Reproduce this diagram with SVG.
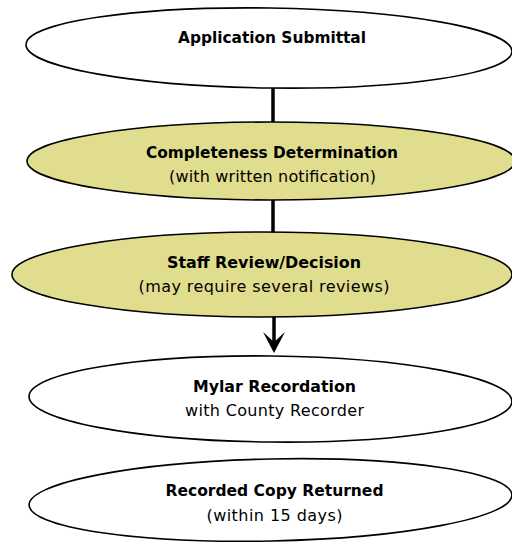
<svg xmlns="http://www.w3.org/2000/svg" width="512" height="542" viewBox="0 0 512 542">
<defs>
<style>
.node ellipse{stroke:#000;stroke-width:1.6}
.w{fill:#fff}
.y{fill:#e1dd8e}
text{font-family:"DejaVu Sans","Liberation Sans",sans-serif;font-size:16px;fill:#000;text-anchor:middle}
.b{font-weight:bold}
.conn line{stroke:#000;stroke-width:3.5}
</style>
</defs>
<rect width="512" height="542" fill="#fff"/>
<g id="connectors" class="conn">
<line x1="273" y1="88" x2="273" y2="123"/>
<line x1="273" y1="200" x2="273" y2="233"/>
<line x1="274" y1="317" x2="274" y2="342"/>
<path d="M263,332 L274,342 L285,332 L274,353 Z" fill="#000"/>
</g>
<g id="n1" class="node">
<ellipse class="w" cx="269" cy="48" rx="243" ry="40" transform="rotate(0.8 269 48)"/>
<text class="b" x="272" y="43" textLength="188" lengthAdjust="spacingAndGlyphs">Application Submittal</text>
</g>
<g id="n2" class="node">
<ellipse class="y" cx="271" cy="161" rx="244" ry="39"/>
<text class="b" x="272" y="158" textLength="252" lengthAdjust="spacingAndGlyphs">Completeness Determination</text>
<text x="272.5" y="182" textLength="207">(with written notification)</text>
</g>
<g id="n3" class="node">
<ellipse class="y" cx="262" cy="274.5" rx="250" ry="42.5"/>
<text class="b" x="264" y="268" textLength="194" lengthAdjust="spacingAndGlyphs">Staff Review/Decision</text>
<text x="264" y="292" textLength="251">(may require several reviews)</text>
</g>
<g id="n4" class="node">
<ellipse class="w" cx="270.5" cy="399" rx="241.5" ry="43" transform="rotate(0.6 270.5 399)"/>
<text class="b" x="274.5" y="392" textLength="163" lengthAdjust="spacingAndGlyphs">Mylar Recordation</text>
<text x="274.5" y="416" textLength="179">with County Recorder</text>
</g>
<g id="n5" class="node">
<ellipse class="w" cx="270.5" cy="500" rx="241.5" ry="41" transform="rotate(-1.2 270.5 500)"/>
<text class="b" x="274.5" y="496" textLength="218" lengthAdjust="spacingAndGlyphs">Recorded Copy Returned</text>
<text x="274.5" y="521" textLength="136">(within 15 days)</text>
</g>
</svg>
